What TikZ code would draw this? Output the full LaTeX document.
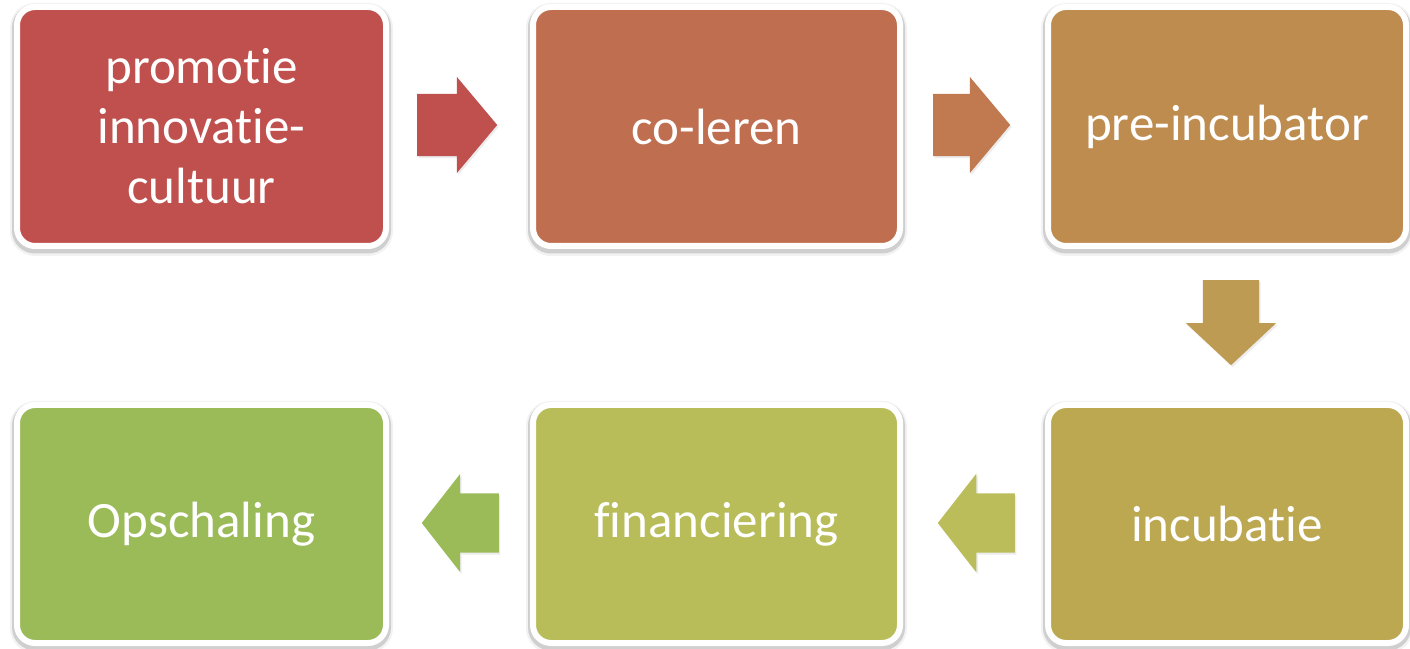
\documentclass[tikz,border=0pt]{standalone}
\usepackage{fontspec}
\setmainfont[Ligatures={NoCommon}]{Carlito}
\usetikzlibrary{shapes.arrows,shadows}
\definecolor{cbA}{HTML}{C0504D}
\definecolor{cbB}{HTML}{BF6F50}
\definecolor{cbC}{HTML}{BF8C50}
\definecolor{cbD}{HTML}{BDA852}
\definecolor{cbE}{HTML}{B8BD59}
\definecolor{cbF}{HTML}{9BBB59}
\definecolor{caA}{HTML}{C0504D}
\definecolor{caB}{HTML}{C17A50}
\definecolor{caC}{HTML}{BE9B52}
\definecolor{caD}{HTML}{BBBD5A}
\definecolor{caE}{HTML}{9BBB59}
\begin{document}
\begin{tikzpicture}[x=1pt,y=1pt,
  stage/.style={rounded corners=18pt, draw=white, line width=6pt, text=white,
    align=center, font=\fontsize{51}{60}\selectfont, inner sep=0pt,
    preaction={draw=black, line width=14pt, opacity=0.05, transform canvas={yshift=-3pt}},
    preaction={draw=black, line width=10pt, opacity=0.14, transform canvas={yshift=-2.5pt}}},
  blockarrow/.style={single arrow, draw=none, inner xsep=0pt, inner ysep=31pt,
    minimum width=0pt, single arrow head extend=17pt, single arrow tip angle=100,
    anchor=tail, drop shadow={opacity=0.15, shadow xshift=1.5pt, shadow yshift=-2pt}}]
\useasboundingbox (0,0) rectangle (1410,648);
\fill[white] (0,0) rectangle (1410,648);
% boxes
\node[stage, fill=cbA, minimum width=369pt, minimum height=239pt] (b1) at (201.5,521.5) {promotie\\innovatie-\\cultuur};
\node[stage, fill=cbB, minimum width=367pt, minimum height=239pt] (b2) at (716.5,521.5) {co-leren};
\node[stage, fill=cbC, minimum width=358pt, minimum height=239pt] (b3) at (1227,521.5) {pre-incubator};
\node[stage, fill=cbD, minimum width=358pt, minimum height=238pt] (b4) at (1227,124) {incubatie};
\node[stage, fill=cbE, minimum width=367pt, minimum height=238pt] (b5) at (716.5,124) {financiering};
\node[stage, fill=cbF, minimum width=369pt, minimum height=238pt] (b6) at (201.5,124) {Opschaling};
% arrows
\node[blockarrow, fill=caA, minimum height=80pt] (a1) at (417,523) {};
\node[blockarrow, fill=caB, minimum height=77pt] (a2) at (933,523) {};
\node[blockarrow, fill=caC, minimum height=85pt, inner xsep=28pt, inner ysep=0pt, single arrow head extend=17pt, single arrow tip angle=94, shape border rotate=270] (a3) at (1231,368) {};
\node[blockarrow, fill=caD, minimum height=77pt, inner ysep=29.5pt, single arrow head extend=19.5pt, single arrow tip angle=104, shape border rotate=180] (a4) at (1015,125) {};
\node[blockarrow, fill=caE, minimum height=77pt, inner ysep=29.5pt, single arrow head extend=19.5pt, single arrow tip angle=104, shape border rotate=180] (a5) at (499,125) {};
\end{tikzpicture}
\end{document}
